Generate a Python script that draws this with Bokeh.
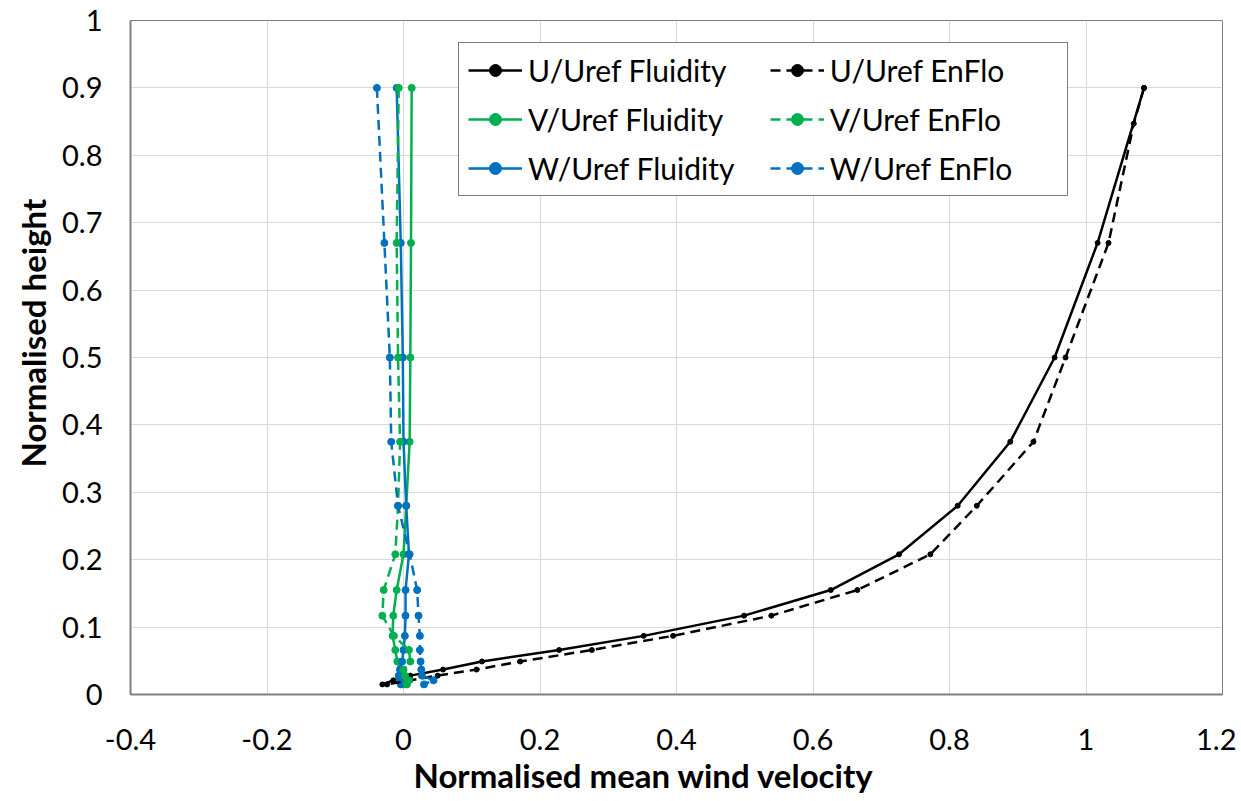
from bokeh.plotting import figure
from bokeh.models import Legend, LegendItem, FixedTicker, Title
from bokeh.embed import file_html
from bokeh.resources import INLINE

# ---- data ----
z = [0.9, 0.67, 0.5, 0.375, 0.28, 0.208, 0.155, 0.117, 0.087, 0.066, 0.049, 0.037, 0.028, 0.021, 0.015]
z_u_enflo = [0.9, 0.847, 0.67, 0.5, 0.375, 0.28, 0.208, 0.155, 0.117, 0.087, 0.066, 0.049, 0.037, 0.028, 0.021, 0.015]

u_fluidity = [1.085, 1.017, 0.954, 0.889, 0.812, 0.726, 0.626, 0.499, 0.352, 0.228, 0.115, 0.058, 0.010, -0.015, -0.031]
u_enflo = [1.085, 1.070, 1.033, 0.970, 0.923, 0.840, 0.772, 0.665, 0.539, 0.395, 0.276, 0.171, 0.107, 0.050, 0.010, -0.024]
v_fluidity = [0.012, 0.011, 0.010, 0.009, 0.004, 0.000, -0.010, -0.015, -0.016, -0.012, -0.009, -0.005, -0.002, -0.001, 0.000]
v_enflo = [-0.007, -0.010, -0.008, -0.005, -0.008, -0.012, -0.029, -0.031, -0.014, 0.008, 0.010, 0.000, 0.002, 0.008, 0.005]
w_fluidity = [-0.010, -0.004, -0.001, 0.000, 0.004, 0.008, 0.003, 0.003, 0.002, 0.000, -0.002, -0.005, -0.007, -0.006, -0.004]
w_enflo = [-0.039, -0.028, -0.020, -0.018, -0.008, 0.009, 0.020, 0.022, 0.024, 0.024, 0.025, 0.026, 0.027, 0.044, 0.030]

x_ticks = [-0.4, -0.2, 0, 0.2, 0.4, 0.6, 0.8, 1, 1.2]
x_tick_labels = ["-0.4", "-0.2", "0", "0.2", "0.4", "0.6", "0.8", "1", "1.2"]
y_ticks = [0, 0.1, 0.2, 0.3, 0.4, 0.5, 0.6, 0.7, 0.8, 0.9, 1]
y_tick_labels = ["0", "0.1", "0.2", "0.3", "0.4", "0.5", "0.6", "0.7", "0.8", "0.9", "1"]

series_labels = ["U/Uref Fluidity", "V/Uref Fluidity", "W/Uref Fluidity",
                 "U/Uref EnFlo", "V/Uref EnFlo", "W/Uref EnFlo"]

FONT = "Lato"
BLACK = "#000000"
GREEN = "#00B050"
BLUE = "#0070C0"

p = figure(width=1236, height=800, x_range=(-0.4, 1.2), y_range=(0, 1),
           output_backend="svg", toolbar_location=None,
           min_border_left=130, min_border_right=14, min_border_top=20, min_border_bottom=106)
p.background_fill_color = "white"
p.border_fill_color = "white"
p.outline_line_color = "#808080"
p.outline_line_width = 1

p.xaxis.ticker = FixedTicker(ticks=x_ticks)
p.xaxis.major_label_overrides = {t: l for t, l in zip(x_ticks, x_tick_labels)}
p.yaxis.ticker = FixedTicker(ticks=y_ticks)
p.yaxis.major_label_overrides = {t: l for t, l in zip(y_ticks, y_tick_labels)}

for ax in (p.xaxis[0], p.yaxis[0]):
    ax.major_tick_line_color = None
    ax.minor_tick_line_color = None
    ax.major_label_text_font = FONT
    ax.major_label_text_font_size = "29px"
    ax.major_label_text_color = "#000000"
    ax.axis_line_color = "#808080"
    ax.axis_line_width = 2

p.xaxis.major_label_standoff = 28
p.yaxis.major_label_standoff = 22

xtitle = Title(text="Normalised mean wind velocity", align="left", offset=283, standoff=0,
               text_font=FONT, text_font_size="33px", text_font_style="bold",
               text_color="#000000")
p.add_layout(xtitle, "below")

ytitle = Title(text="Normalised height", align="left", offset=227, standoff=14,
               text_font=FONT, text_font_size="33px", text_font_style="bold",
               text_color="#000000")
p.add_layout(ytitle, "left")

p.grid.grid_line_color = "#D9D9D9"
p.grid.grid_line_width = 1

DASH = "10 6"

def series(x, y, color, dash, msize):
    l = p.line(x, y, line_color=color, line_width=2.5, line_dash=dash)
    s = p.scatter(x, y, size=msize, fill_color=color, line_color=color)
    return [l, s]

r_uf = series(u_fluidity, z, BLACK, "solid", 5)
r_vf = series(v_fluidity, z, GREEN, "solid", 7)
r_wf = series(w_fluidity, z, BLUE, "solid", 7)
r_ue = series(u_enflo, z_u_enflo, BLACK, DASH, 5)
r_ve = series(v_enflo, z, GREEN, DASH, 7)
r_we = series(w_enflo, z, BLUE, DASH, 7)

# trailing spaces only widen the legend columns (invisible)
col1_pad = " " * 3
col2_pad = " " * 6
renderers = [r_uf, r_vf, r_wf, r_ue, r_ve, r_we]
items = []
for i, (lab, rs) in enumerate(zip(series_labels, renderers)):
    items.append(LegendItem(label=lab + (col1_pad if i < 3 else col2_pad), renderers=rs))

legend = Legend(items=items, ncols=2, orientation="vertical", location=(328, 498))
legend.label_text_font = FONT
legend.label_text_font_size = "30px"
legend.label_text_color = "#000000"
legend.label_height = 30
legend.glyph_width = 54
legend.glyph_height = 30
legend.label_standoff = 6
legend.spacing = 13
legend.padding = 9
legend.margin = 0
legend.border_line_color = "#000000"
legend.border_line_width = 1.5
legend.background_fill_alpha = 1
p.add_layout(legend)

open("out.html", "w").write(file_html(p, INLINE))
